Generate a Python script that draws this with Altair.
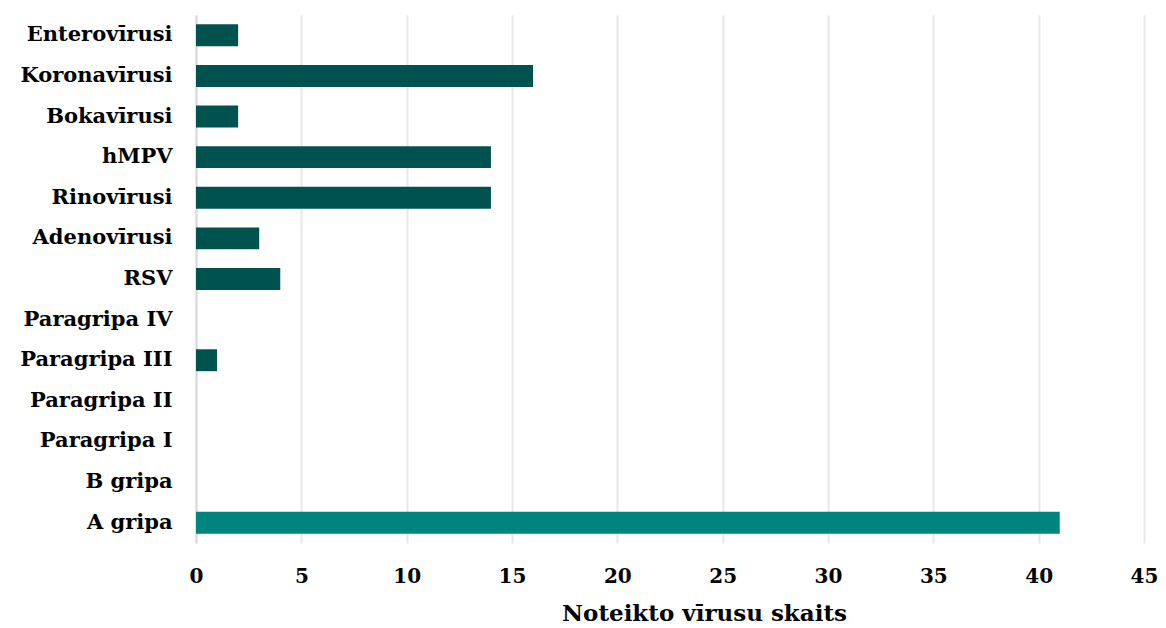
import altair as alt
import pandas as pd

categories = ["Enterovīrusi", "Koronavīrusi", "Bokavīrusi", "hMPV", "Rinovīrusi",
              "Adenovīrusi", "RSV", "Paragripa IV", "Paragripa III", "Paragripa II",
              "Paragripa I", "B gripa", "A gripa"]
values = [2, 16, 2, 14, 14, 3, 4, 0, 1, 0, 0, 0, 41]
groups = ["other"] * 12 + ["flu"]

df = pd.DataFrame({"virus": categories, "count": values, "group": groups})

font = "DejaVu Serif"

chart = alt.Chart(df).mark_bar().encode(
    y=alt.Y("virus:N", sort=categories, title=None,
            scale=alt.Scale(paddingInner=0.46, paddingOuter=0.23),
            axis=alt.Axis(labelFont=font, labelFontSize=21, labelFontWeight="bold",
                          labelColor="#000000", ticks=False, labelPadding=24,
                          domainColor="#d9d9d9", domainWidth=2)),
    x=alt.X("count:Q", title="Noteikto vīrusu skaits",
            scale=alt.Scale(domain=[0, 45], nice=False),
            axis=alt.Axis(values=list(range(0, 50, 5)), labelFont=font, labelFontSize=20,
                          labelFontWeight="bold", labelColor="#000000", ticks=False,
                          labelFlush=False,
                          domain=False, labelPadding=23, grid=True, gridColor="#e8e8e8",
                          gridWidth=2, titleFont=font, titleFontSize=23,
                          titleFontWeight="bold", titleColor="#000000", titlePadding=16,
                          titleX=508, titleAlign="center")),
    color=alt.Color("group:N", scale=alt.Scale(domain=["other", "flu"],
                                                range=["#00524f", "#00847f"]), legend=None),
).properties(
    width=948, height=528,
    autosize=alt.AutoSizeParams(type="none"),
    padding={"left": 188, "top": 7, "right": 14, "bottom": 82},
).configure_view(stroke=None)

chart.save("out.html", embed_options={"renderer": "svg", "actions": False})
